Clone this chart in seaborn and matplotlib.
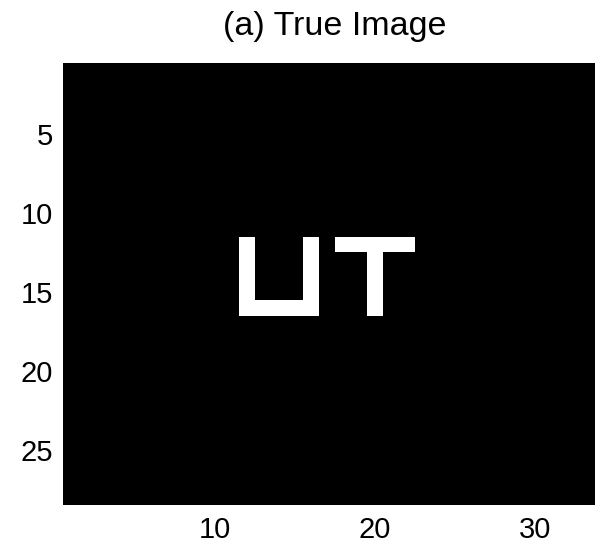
import numpy as np
import pandas as pd
import matplotlib
matplotlib.use("Agg")
import matplotlib.pyplot as plt
import seaborn as sns

# ---- data (1-based pixel indices, MATLAB style) ----
img_rows = 28
img_cols = 34
# letter "U"
u_cols = [12, 16]          # left / right column of U
u_rows = [12, 16]          # top / bottom row of U
# letter "T"
t_cols = [18, 22]          # left / right column of T bar
t_stem_col = 20
t_rows = [12, 16]          # top row (bar) / bottom row of stem
x_ticks = [10, 20, 30]
y_ticks = [5, 10, 15, 20, 25]
title = "(a) True Image"

# build binary image from the strokes
img = np.zeros((img_rows, img_cols))
r0, r1 = u_rows[0] - 1, u_rows[1] - 1
c0, c1 = u_cols[0] - 1, u_cols[1] - 1
img[r0:r1 + 1, c0] = 1
img[r0:r1 + 1, c1] = 1
img[r1, c0:c1 + 1] = 1
tr0, tr1 = t_rows[0] - 1, t_rows[1] - 1
tc0, tc1 = t_cols[0] - 1, t_cols[1] - 1
img[tr0, tc0:tc1 + 1] = 1
img[tr0:tr1 + 1, t_stem_col - 1] = 1
df = pd.DataFrame(img, index=range(1, img_rows + 1), columns=range(1, img_cols + 1))

W, H = 595, 553
fig = plt.figure(figsize=(W / 100, H / 100), dpi=100)
left_px, top_px, bottom_px = 63, 63, 505
col_px = 16.0
vis_cols = (W - left_px) / col_px
ax = fig.add_axes([left_px / W, (H - bottom_px) / H, (W - left_px) / W, (bottom_px - top_px) / H])

sns.heatmap(df, cmap="gray", vmin=0, vmax=1, cbar=False, ax=ax,
            xticklabels=False, yticklabels=False)
ax.set_xlim(0, vis_cols)
ax.set_ylim(img_rows, 0)

font = ["Liberation Sans", "DejaVu Sans"]
ax.set_xticks([t - 0.5 for t in x_ticks])
ax.set_xticklabels([str(t) for t in x_ticks], family=font, fontsize=21)
ax.set_yticks([t - 0.5 for t in y_ticks])
ax.set_yticklabels([str(t) for t in y_ticks], family=font, fontsize=21, rotation=0)
ax.tick_params(axis="both", length=0)
ax.tick_params(axis="x", pad=8)
ax.tick_params(axis="y", pad=7)
ax.set_xlabel("")
ax.set_ylabel("")

# title centred over the full image width
ax.text(img_cols / 2, -1.75, title, ha="center", va="baseline",
        family=font, fontsize=24.5, transform=ax.transData, clip_on=False)

fig.savefig("out.png", dpi=100)
